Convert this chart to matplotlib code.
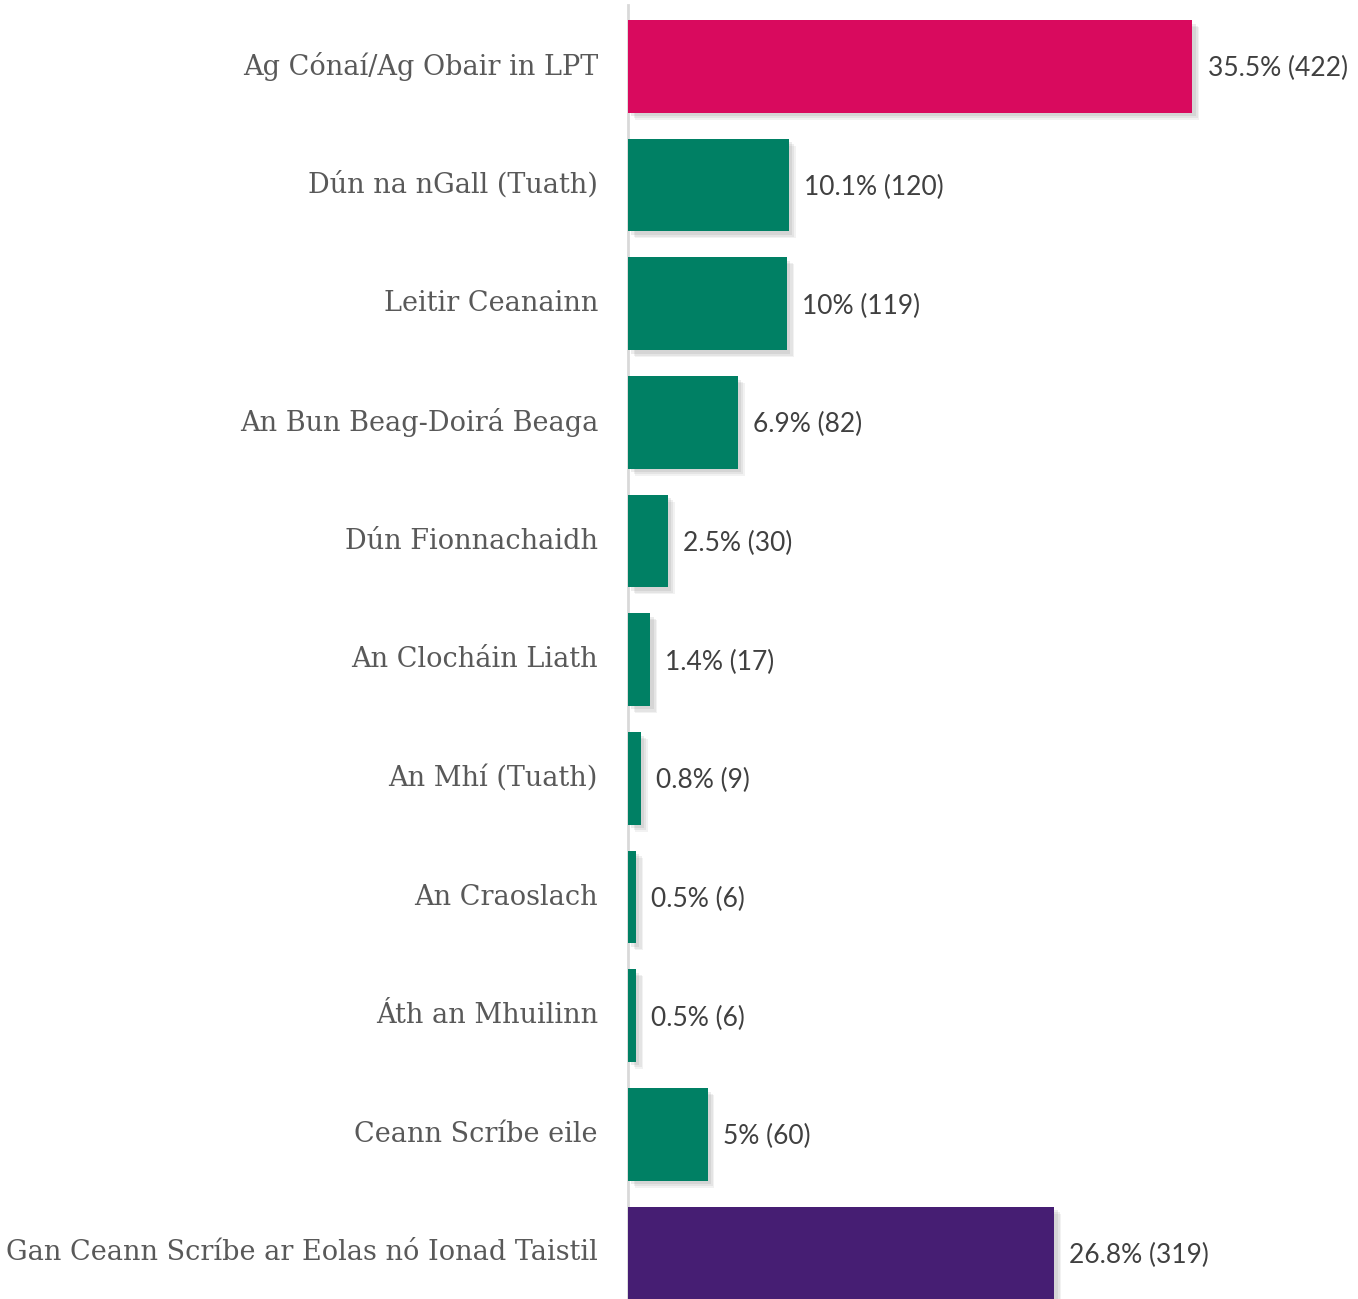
import matplotlib
matplotlib.use("Agg")
import matplotlib.pyplot as plt
import matplotlib.patheffects as pe

categories = ["Ag Cónaí/Ag Obair in LPT", "Dún na nGall (Tuath)", "Leitir Ceanainn",
              "An Bun Beag-Doirá Beaga", "Dún Fionnachaidh", "An Clocháin Liath",
              "An Mhí (Tuath)", "An Craoslach", "Áth an Mhuilinn", "Ceann Scríbe eile",
              "Gan Ceann Scríbe ar Eolas nó Ionad Taistil"]
percents = [35.5, 10.1, 10.0, 6.9, 2.5, 1.4, 0.8, 0.5, 0.5, 5.0, 26.8]
pct_labels = ["35.5%", "10.1%", "10%", "6.9%", "2.5%", "1.4%", "0.8%", "0.5%", "0.5%", "5%", "26.8%"]
counts = [422, 120, 119, 82, 30, 17, 9, 6, 6, 60, 319]

PINK = "#D90A5E"
GREEN = "#008064"
PURPLE = "#461E73"
colors = [PINK] + [GREEN] * 9 + [PURPLE]

W, H = 1358, 1299
fig = plt.figure(figsize=(W / 100, H / 100), dpi=100)
ax_left = 628 / W
ax_top = 5 / H
ax = fig.add_axes([ax_left, 0, 1 - ax_left, 1 - ax_top])

y = list(range(len(categories)))
bars = ax.barh(y, percents, height=0.78, color=colors, zorder=3)
for b in bars:
    b.set_path_effects([
        pe.SimplePatchShadow(offset=(5, -5), shadow_rgbFace="#808080", alpha=0.10),
        pe.SimplePatchShadow(offset=(4, -4), shadow_rgbFace="#808080", alpha=0.12),
        pe.SimplePatchShadow(offset=(2.5, -2.5), shadow_rgbFace="#808080", alpha=0.15),
        pe.Normal()])

ax.set_xlim(0, (W - 628) / 15.9)
ax.set_ylim(10.388, -0.518)

for yi, v, p, c in zip(y, percents, pct_labels, counts):
    ax.text(v + 0.95, yi + 0.02, f"{p} ({c})", va="center", ha="left",
            fontsize=19, family="Lato", color="#404040")

for yi, cat in zip(y, categories):
    ax.text(-30 / 15.9, yi, cat, va="center", ha="right", fontsize=19.5,
            family="DejaVu Serif", color="#595959", clip_on=False)

for s in ["top", "right", "bottom"]:
    ax.spines[s].set_visible(False)
ax.spines["left"].set_color("#d9d9d9")
ax.spines["left"].set_linewidth(2)
ax.set_xticks([])
ax.set_yticks([])
ax.patch.set_alpha(0)

fig.savefig("out.png", dpi=100)
